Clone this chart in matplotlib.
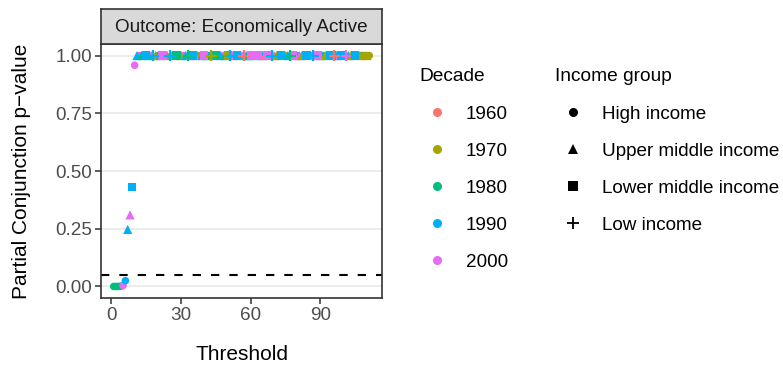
"""
Partial conjunction p-values against the threshold, coloured by decade
and shaped by income group (outcome: economically active).
"""

import matplotlib
matplotlib.use("Agg")
import matplotlib.pyplot as plt
from matplotlib.lines import Line2D

plt.rcParams["font.family"] = ["Liberation Sans", "DejaVu Sans"]

# ---------------------------------------------------------------------------
# Data
# ---------------------------------------------------------------------------
DECADES = ["1960", "1970", "1980", "1990", "2000"]
DECADE_COLORS = ["#F8766D", "#A3A500", "#00BF7D", "#00B0F6", "#E76BF3"]
INCOME_GROUPS = ["High income", "Upper middle income",
                 "Lower middle income", "Low income"]

# low thresholds, where the p-value is still climbing
threshold_low = [1, 2, 3, 4, 5, 6, 7, 8, 9, 10]
pvalue_low = [0.0, 0.0, 0.0, 0.001, 0.004, 0.025, 0.247, 0.31, 0.43, 0.958]
decade_low = ["1980", "1980", "1980", "1980", "2000", "1990",
              "1990", "2000", "1990", "2000"]
income_low = ["High income", "High income", "High income", "High income",
              "High income", "High income", "Upper middle income",
              "Upper middle income", "Lower middle income", "High income"]

# thresholds 11..111, where the p-value has saturated
threshold_high = list(range(11, 112))
pvalue_high = [1.0] * len(threshold_high)
decade_high = [
    "1990", "2000", "1980", "1970", "1990", "1980", "2000", "1990", "1970", "1980",
    "1990", "2000", "1980", "1970", "1990", "1960", "2000", "1980", "1990", "1970",
    "2000", "1990", "1980", "1960", "1990", "2000", "1980", "1970", "1990", "2000",
    "1980", "1990", "1970", "2000", "1980", "1960", "1990", "2000", "1980", "1970",
    "1990", "2000", "1980", "1990", "1970", "2000", "1960", "1990", "1980", "2000",
    "1990", "1980", "2000", "1970", "1990", "1960", "2000", "1980", "1990", "2000",
    "1970", "1980", "1990", "2000", "1970", "1990", "1980", "2000", "1960", "1990",
    "2000", "1970", "1980", "1990", "2000", "1970", "1990", "1960", "2000", "1980",
    "1990", "1970", "2000", "1990", "1990", "1960", "1990", "2000", "1990", "1970",
    "2000", "1990", "1970", "2000", "1990", "1970", "1970", "1990", "1970", "1970",
    "1970",
]
_H, _U, _L, _W = INCOME_GROUPS
income_high = [
    _U, _H, _U, _H, _L, _U, _H, _W, _U, _H,
    _U, _L, _H, _U, _W, _H, _U, _L, _H, _U,
    _H, _U, _W, _U, _L, _U, _H, _H, _U, _L,
    _U, _H, _W, _U, _L, _H, _U, _H, _U, _L,
    _W, _U, _H, _L, _U, _H, _W, _U, _U, _L,
    _H, _U, _L, _H, _U, _U, _L, _H, _W, _U,
    _U, _H, _L, _H, _H, _U, _W, _L, _U, _H,
    _U, _U, _H, _L, _H, _H, _W, _U, _L, _U,
    _H, _U, _H, _L, _L, _W, _U, _U, _L, _H,
    _W, _U, _U, _H, _L, _H, _U, _H, _H, _U,
    _H,
]

threshold = threshold_low + threshold_high
pvalue = pvalue_low + pvalue_high
decade = decade_low + decade_high
income = income_low + income_high

ALPHA_LINE = 0.05

# ---------------------------------------------------------------------------
# Styling
# ---------------------------------------------------------------------------
MARKERS = {"High income": "o", "Upper middle income": "^",
           "Lower middle income": "s", "Low income": "P"}
SIZES = {"High income": 30, "Upper middle income": 44,
         "Lower middle income": 34, "Low income": 40}
GREY20 = "#333333"
GREY30 = "#4D4D4D"
TEXT_SIZE = 13.6
TITLE_SIZE = 15

fig = plt.figure(figsize=(7.83, 3.66), dpi=100)
W, H = 783, 366
ax = fig.add_axes([101 / W, 68 / H, 281 / W, 254 / H])
strip = fig.add_axes([101 / W, 322 / H, 281 / W, 35 / H])

color_of = dict(zip(DECADES, DECADE_COLORS))
for group in INCOME_GROUPS:
    idx = [i for i, g in enumerate(income) if g == group]
    xs = [threshold[i] for i in idx]
    ys = [pvalue[i] for i in idx]
    cs = [color_of[decade[i]] for i in idx]
    if group == "Low income":
        ax.scatter(xs, ys, c=cs, marker="+", s=60, linewidths=1.6, zorder=3)
    else:
        ax.scatter(xs, ys, c=cs, marker=MARKERS[group], s=SIZES[group],
                   linewidths=0, zorder=3)

ax.axhline(ALPHA_LINE, color="black", lw=1.5, ls=(0, (4, 4.8)), zorder=2)

xmin, xmax = min(threshold), max(threshold)
xpad = (xmax - xmin) * 0.05
ax.set_xlim(xmin - xpad, xmax + xpad)
ax.set_ylim(-0.05, 1.05)
ax.set_xticks([0, 30, 60, 90])
ax.set_yticks([0, 0.25, 0.5, 0.75, 1.0])
ax.set_yticklabels(["0.00", "0.25", "0.50", "0.75", "1.00"])
ax.yaxis.grid(True, color="#EBEBEB", lw=1.3)
ax.set_axisbelow(True)
ax.tick_params(colors=GREY20, labelcolor=GREY30, labelsize=TEXT_SIZE,
               length=4, width=1.1, pad=2.5)
for sp in ax.spines.values():
    sp.set_color(GREY20)
    sp.set_linewidth(1.2)

ax.set_xlabel("Threshold", fontsize=TITLE_SIZE, labelpad=15)
ax.set_ylabel("Partial Conjunction p\u2212value", fontsize=TITLE_SIZE,
              labelpad=17)

strip.set_facecolor("#D9D9D9")
strip.set_xticks([])
strip.set_yticks([])
for sp in strip.spines.values():
    sp.set_color(GREY20)
    sp.set_linewidth(1.2)
strip.text(0.5, 0.47, "Outcome: Economically Active", ha="center", va="center",
           fontsize=TEXT_SIZE, color="#1A1A1A", transform=strip.transAxes)

# Legends
decade_handles = [Line2D([], [], ls="none", marker="o", ms=6.5, mew=0,
                         color=c, label=d)
                  for d, c in zip(DECADES, DECADE_COLORS)]
income_handles = []
for group in INCOME_GROUPS:
    if group == "Low income":
        h = Line2D([], [], ls="none", marker="+", ms=9, mew=1.3,
                   color="black", label=group)
    else:
        h = Line2D([], [], ls="none", marker=MARKERS[group], ms=6.5, mew=0,
                   color="black", label=group)
    income_handles.append(h)

leg_kw = dict(frameon=False, fontsize=TEXT_SIZE, title_fontsize=13.8,
              alignment="left", handlelength=1.9, handletextpad=0.58,
              labelspacing=1.04, borderaxespad=0, borderpad=0)
leg1 = fig.legend(handles=decade_handles, title="Decade", loc="upper left",
                  bbox_to_anchor=(419 / W, 1 - 68 / H), **leg_kw)
leg2 = fig.legend(handles=income_handles, title="Income group",
                  loc="upper left", bbox_to_anchor=(555 / W, 1 - 68 / H),
                  **leg_kw)
for leg in (leg1, leg2):
    leg._legend_box.sep = 15

fig.savefig("out.png", dpi=100)
